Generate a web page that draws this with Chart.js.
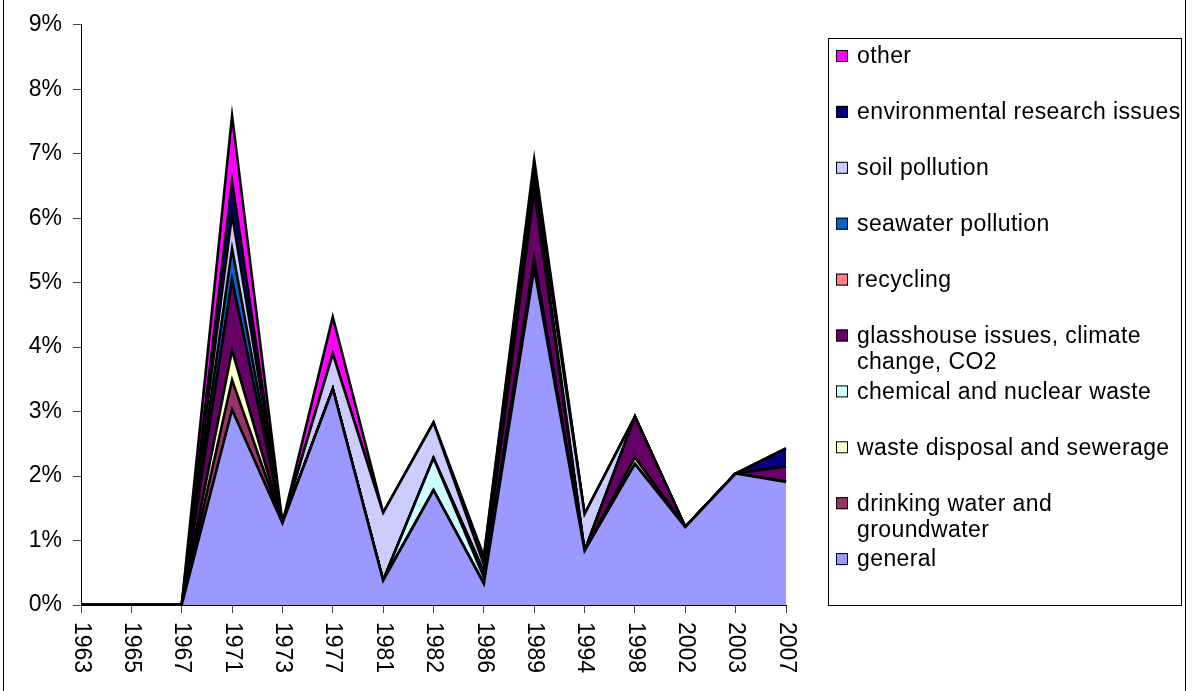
<!DOCTYPE html>
<html>
<head>
<meta charset="utf-8">
<title>Environmental topics per year</title>
<script src="https://cdn.jsdelivr.net/npm/chart.js@4/dist/chart.umd.min.js"></script>
<style>
    html, body { margin: 0; padding: 0; background: #ffffff; }
    canvas { display: block; }
</style>
</head>
<body>
<canvas id="EnvTopicsChart" width="1195" height="691"></canvas>
<script>
//--- Data (share of items, in %)
var years = ['1963', '1965', '1967', '1971', '1973', '1977', '1981', '1982', '1986', '1989', '1994', '1998', '2002', '2003', '2007'];
var yTickLabels = ['0%', '1%', '2%', '3%', '4%', '5%', '6%', '7%', '8%', '9%'];

var general    = [0, 0, 0, 3.03, 1.27, 3.35, 0.38, 1.78, 0.33, 5.22, 0.84, 2.19, 1.21, 2.04, 1.91];
var drinking   = [0, 0, 0, 0.46, 0, 0, 0, 0, 0, 0.05, 0, 0, 0, 0, 0];
var wasteDisp  = [0, 0, 0, 0.46, 0, 0, 0, 0, 0, 0.05, 0, 0.10, 0, 0, 0];
var chemical   = [0, 0, 0, 0, 0, 0, 0, 0.50, 0.10, 0.05, 0, 0, 0, 0, 0];
var glasshouse = [0, 0, 0, 1.09, 0, 0, 0, 0, 0.08, 1.05, 0, 0.63, 0, 0, 0.24];
var recycling  = [0, 0, 0, 0, 0, 0, 0, 0, 0, 0.05, 0, 0, 0, 0, 0];
var seawater   = [0, 0, 0, 0.49, 0, 0, 0, 0, 0, 0.10, 0, 0, 0, 0, 0];
var soil       = [0, 0, 0, 0.53, 0, 0.55, 1.05, 0.55, 0.12, 0.12, 0.57, 0, 0, 0, 0];
var envResearch = [0, 0, 0, 0.51, 0, 0, 0, 0, 0.12, 0.12, 0, 0, 0, 0, 0.28];
var other      = [0, 0, 0, 1.02, 0, 0.57, 0, 0, 0, 0.10, 0, 0, 0, 0, 0];

// legend text, one entry per line of text
var seriesNames = [
    ['general'],
    ['drinking water and', 'groundwater'],
    ['waste disposal and sewerage'],
    ['chemical and nuclear waste'],
    ['glasshouse issues, climate', 'change, CO2'],
    ['recycling'],
    ['seawater pollution'],
    ['soil pollution'],
    ['environmental research issues'],
    ['other']
];
var seriesData = [general, drinking, wasteDisp, chemical, glasshouse, recycling, seawater, soil, envResearch, other];
var seriesColors = ['#9999FF', '#993366', '#FFFFCC', '#CCFFFF', '#660066', '#FF8080', '#0066CC', '#CCCCFF', '#000080', '#FF00FF'];

var FONT = '"Liberation Sans", Arial, sans-serif';

//--- Plugins
// x labels are turned clockwise, Chart.js only turns them the other way
var rotatedXLabels = {
    id: 'rotatedXLabels',
    afterDraw: function (chart) {
        var ctx = chart.ctx;
        var xs = chart.scales.x;
        ctx.save();
        ctx.font = '23px ' + FONT;
        ctx.fillStyle = '#000';
        ctx.textAlign = 'left';
        ctx.textBaseline = 'middle';
        years.forEach(function (yr, i) {
            ctx.save();
            ctx.translate(xs.getPixelForValue(i), chart.chartArea.bottom + 17);
            ctx.rotate(Math.PI / 2);
            ctx.fillText(yr, 0, 0);
            ctx.restore();
        });
        ctx.restore();
    }
};

// boxed legend, top entry = last series
var boxedLegend = {
    id: 'boxedLegend',
    afterDraw: function (chart) {
        var ctx = chart.ctx;
        ctx.save();
        ctx.strokeStyle = '#000';
        ctx.lineWidth = 1;
        ctx.strokeRect(3.5, -2, 1182, 700);   // outer frame
        ctx.strokeRect(828.5, 38.5, 353, 567); // legend box

        ctx.font = '23px ' + FONT;
        ctx.letterSpacing = '0.4px';
        ctx.textAlign = 'left';
        ctx.textBaseline = 'middle';
        var sets = chart.data.datasets.slice().reverse();
        sets.forEach(function (ds, i) {
            var cy = 56 + i * 55.9;
            ctx.fillStyle = ds.backgroundColor;
            ctx.fillRect(836, cy - 6, 12, 12);
            ctx.strokeRect(836.5, cy - 5.5, 11, 11);
            ctx.fillStyle = '#000';
            ds.legendLines.forEach(function (line, k) {
                ctx.fillText(line, 857, cy + 1 + k * 26);
            });
        });
        ctx.restore();
    }
};

//--- Chart
var datasets = seriesData.map(function (values, i) {
    return {
        label: seriesNames[i].join(' '),
        legendLines: seriesNames[i],
        data: values,
        backgroundColor: seriesColors[i],
        borderColor: '#000000',
        borderWidth: 2.6,
        pointRadius: 0,
        tension: 0,
        fill: i === 0 ? 'origin' : '-1'
    };
});

var ctx = document.getElementById('EnvTopicsChart');
new Chart(ctx, {
    type: 'line',
    data: { labels: years, datasets: datasets },
    options: {
        responsive: false,
        animation: false,
        layout: { padding: { top: 16, right: 409, left: 0, bottom: 0 } },
        plugins: {
            legend: { display: false },
            tooltip: { enabled: false }
        },
        scales: {
            x: {
                offset: false,
                grid: { display: true, drawOnChartArea: false, drawTicks: true, tickLength: 8, color: '#444' },
                border: { display: true, color: '#000', width: 1 },
                ticks: { display: false, autoSkip: false },
                afterFit: function (scale) { scale.height = 86; }
            },
            y: {
                stacked: true,
                min: 0,
                max: 9,
                grid: { display: true, drawOnChartArea: false, drawTicks: true, tickLength: 8, color: '#444' },
                border: { display: true, color: '#000', width: 1 },
                ticks: {
                    stepSize: 1,
                    padding: 11,
                    color: '#000',
                    font: { family: FONT, size: 23 },
                    callback: function (value, index) { return yTickLabels[index]; }
                },
                afterFit: function (scale) { scale.width = 81; }
            }
        }
    },
    plugins: [rotatedXLabels, boxedLegend]
});
</script>
</body>
</html>
